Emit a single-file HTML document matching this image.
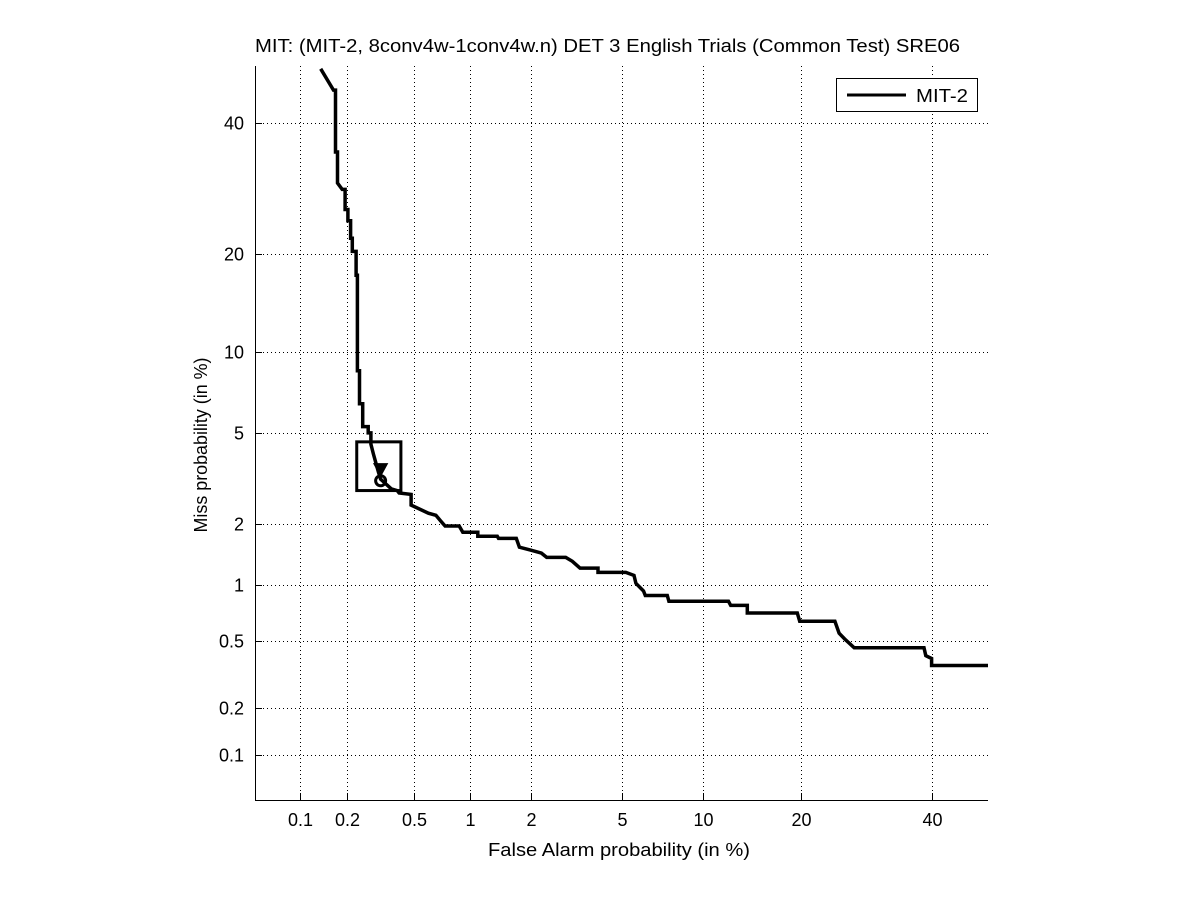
<!DOCTYPE html>
<html><head><meta charset="utf-8"><style>
html,body{margin:0;padding:0;background:#fff;}
svg{display:block;font-family:"Liberation Sans",sans-serif;}
</style></head><body>
<svg id="chart" width="1201" height="900" viewBox="0 0 1201 900" xmlns="http://www.w3.org/2000/svg">
<rect x="0" y="0" width="1201" height="900" fill="#fff"/>
<g id="grid"></g>
<g id="axes"></g>
<g id="series"></g>
<text x="255" y="52" textLength="705" lengthAdjust="spacingAndGlyphs" font-size="18">MIT: (MIT-2, 8conv4w-1conv4w.n) DET 3 English Trials (Common Test) SRE06</text>
<text x="488" y="856" textLength="262" lengthAdjust="spacingAndGlyphs" font-size="18">False Alarm probability (in %)</text>
<text x="0" y="0" transform="translate(207,445) rotate(-90)" text-anchor="middle" font-size="18" textLength="175" lengthAdjust="spacingAndGlyphs">Miss probability (in %)</text>
<g>
<rect x="836.5" y="78.5" width="141" height="33" fill="#fff" stroke="#000" stroke-width="1"/>
<line x1="847" y1="95" x2="906" y2="95" stroke="#000" stroke-width="3"/>
<text x="916" y="102" font-size="18" textLength="52" lengthAdjust="spacingAndGlyphs">MIT-2</text>
</g>
</svg>
<script>
const tickValues = [0.1, 0.2, 0.5, 1, 2, 5, 10, 20, 40];
const tickLabels = ["0.1", "0.2", "0.5", "1", "2", "5", "10", "20", "40"];
const yTickValues = [0.1, 0.2, 0.5, 1, 2, 5, 10, 20, 40];
const yTickLabels = ["0.1", "0.2", "0.5", "1", "2", "5", "10", "20", "40"];
const falseAlarm = [0.137,0.165,0.17,0.17,0.175,0.175,0.187,0.195,0.195,0.203,0.203,0.211,0.211,0.216,0.216,0.228,0.228,0.232,0.232,0.239,0.239,0.25,0.25,0.27,0.27,0.28,0.28,0.29,0.31,0.32,0.37,0.40,0.41,0.48,0.48,0.6,0.66,0.7,0.74,0.88,0.92,1.1,1.1,1.38,1.4,1.71,1.77,2.0,2.25,2.38,2.9,3.1,3.35,4.0,4.0,5.2,5.6,5.7,6.1,6.2,7.5,7.6,12.2,12.4,14,14,19.6,19.9,24.6,25.2,26,27.4,38.7,39,40,40,50];
const missRate = [49.5,45.7,45.7,35,35,30,29,29,26,26,24.4,24.4,22,22,20.3,20.3,17.4,17.4,8.6,8.6,6.5,6.5,5.3,5.3,5.0,5.0,4.5,4.1,3.45,3.2,2.9,2.85,2.78,2.74,2.45,2.25,2.2,2.07,1.96,1.96,1.83,1.83,1.75,1.75,1.71,1.71,1.55,1.5,1.45,1.38,1.38,1.32,1.22,1.22,1.16,1.16,1.12,1.02,0.93,0.88,0.88,0.82,0.82,0.78,0.78,0.71,0.71,0.64,0.64,0.55,0.51,0.455,0.455,0.41,0.395,0.36,0.36];
const minDcfBox = [0.23, 0.42, 2.85, 4.6];
const minDcfPoint = [0.32, 3.5];
const actDcfPoint = [0.32, 3.15];

function probit(p){
  const a=[-39.69683028665376,220.9460984245205,-275.9285104469687,138.3577518672690,-30.66479806614716,2.506628277459239];
  const b=[-54.47609879822406,161.5858368580409,-155.6989798598866,66.80131188771972,-13.28068155288572];
  const c=[-0.007784894002430293,-0.3223964580411365,-2.400758277161838,-2.549732539343734,4.374664141464968,2.938163982698783];
  const d=[0.007784695709041462,0.3224671290700398,2.445134137142996,3.754408661907416];
  const pl=0.02425;let q,r;
  if(p<pl){q=Math.sqrt(-2*Math.log(p));return (((((c[0]*q+c[1])*q+c[2])*q+c[3])*q+c[4])*q+c[5])/((((d[0]*q+d[1])*q+d[2])*q+d[3])*q+1);}
  if(p<=1-pl){q=p-0.5;r=q*q;return (((((a[0]*r+a[1])*r+a[2])*r+a[3])*r+a[4])*r+a[5])*q/(((((b[0]*r+b[1])*r+b[2])*r+b[3])*r+b[4])*r+1);}
  q=Math.sqrt(-2*Math.log(1-p));return -(((((c[0]*q+c[1])*q+c[2])*q+c[3])*q+c[4])*q+c[5])/((((d[0]*q+d[1])*q+d[2])*q+d[3])*q+1);
}
const X0=255,X1=988,Y0=800,Y1=66;
const zmin=probit(0.0005), zmax=probit(0.5);
function xs(pct){return X0+(probit(pct/100)-zmin)/(zmax-zmin)*(X1-X0);}
function ys(pct){return Y0-(probit(pct/100)-zmin)/(zmax-zmin)*(Y0-Y1);}
const NS='http://www.w3.org/2000/svg';
function mk(tag,attrs,parent){const e=document.createElementNS(NS,tag);for(const k in attrs)e.setAttribute(k,attrs[k]);parent.appendChild(e);return e;}
const grid=document.getElementById('grid'),axes=document.getElementById('axes'),series=document.getElementById('series');

tickValues.forEach((v,i)=>{
  const x=Math.round(xs(v))+0.5;
  const g=mk('line',{x1:x,y1:Y1,x2:x,y2:Y0,stroke:'#000','stroke-width':1,'stroke-dasharray':'1 3'},grid);
  
  
  const t=mk('line',{x1:x,y1:Y0,x2:x,y2:Y0-7,stroke:'#000','stroke-width':1},axes);
  
  
  const l=mk('text',{x:x,y:826,'text-anchor':'middle','font-size':18},axes);
  l.textContent=tickLabels[i];
  
  
});
yTickValues.forEach((v,i)=>{
  const y=Math.round(ys(v))+0.5;
  const g=mk('line',{x1:X0,y1:y,x2:X1,y2:y,stroke:'#000','stroke-width':1,'stroke-dasharray':'1 3'},grid);
  
  
  const t=mk('line',{x1:X0,y1:y,x2:X0+7,y2:y,stroke:'#000','stroke-width':1},axes);
  
  
  const l=mk('text',{x:244,y:y+6,'text-anchor':'end','font-size':18},axes);
  l.textContent=yTickLabels[i];
  
  
});
const xa=mk('line',{x1:X0,y1:Y0+0.5,x2:X1,y2:Y0+0.5,stroke:'#000','stroke-width':1},axes);


const ya=mk('line',{x1:X0+0.5,y1:Y1,x2:X0+0.5,y2:Y0,stroke:'#000','stroke-width':1},axes);



const pts=falseAlarm.map((v,i)=>xs(v).toFixed(1)+','+ys(missRate[i]).toFixed(1)).join(' ');
const curve=mk('polyline',{points:pts,fill:'none',stroke:'#000','stroke-width':3.5,'stroke-linejoin':'miter'},series);



const bx0=xs(minDcfBox[0]),bx1=xs(minDcfBox[1]),by0=ys(minDcfBox[3]),by1=ys(minDcfBox[2]);
const box=mk('rect',{x:bx0,y:by0,width:bx1-bx0,height:by1-by0,fill:'none',stroke:'#000','stroke-width':3},series);


const tx=xs(minDcfPoint[0]),ty=ys(minDcfPoint[1]);
const tri=mk('polygon',{points:`${tx-6},${ty-6} ${tx+6},${ty-6} ${tx},${ty+5}`,fill:'#000',stroke:'#000','stroke-width':2},series);


const cx=xs(actDcfPoint[0]),cy=ys(actDcfPoint[1]);
const circ=mk('circle',{cx:cx,cy:cy,r:5,fill:'none',stroke:'#000','stroke-width':3},series);


</script>
</body></html>
